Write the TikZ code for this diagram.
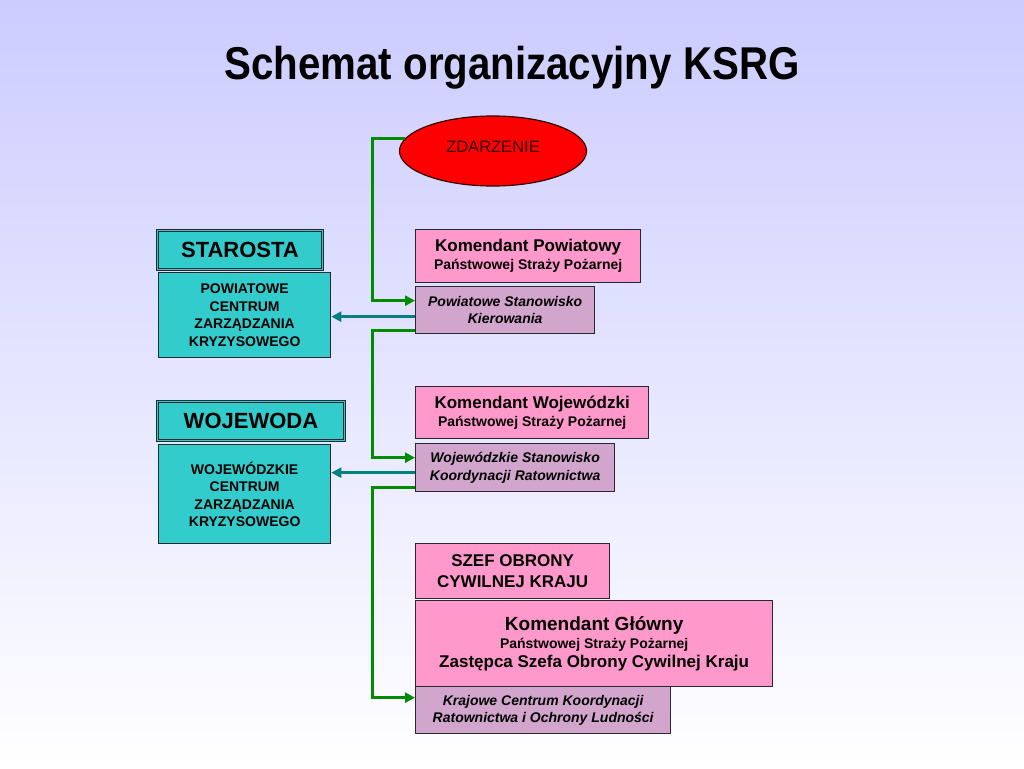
\documentclass[tikz,border=0pt]{standalone}
\usepackage{fontspec}
\setmainfont{Liberation Sans}
\usetikzlibrary{shapes.geometric,arrows.meta}
\definecolor{bgtop}{RGB}{204,204,255}
\definecolor{pinkbox}{RGB}{255,153,204}
\definecolor{lilac}{RGB}{210,165,205}
\definecolor{tealfill}{RGB}{51,204,204}
\definecolor{tealline}{RGB}{0,128,128}
\definecolor{gline}{RGB}{0,140,0}
\definecolor{edge}{RGB}{40,40,48}
\newcommand{\fs}[2]{\fontsize{#1}{#2}\selectfont}
\tikzset{
  basebox/.style={draw=edge, line width=1.3pt, anchor=north west, inner sep=0pt, align=center, text=black},
  pinkb/.style={basebox, fill=pinkbox, font=\bfseries},
  lilacb/.style={basebox, fill=lilac, font=\bfseries\itshape\fs{14}{17.5}},
  tealb/.style={basebox, fill=tealfill, font=\bfseries\fs{14}{17.5}},
  headb/.style={basebox, fill=tealfill, double=tealfill, double distance=1.4pt, line width=0.9pt, font=\bfseries},
  garrow/.style={draw=gline, line width=3pt, -{Triangle[length=10pt,width=10pt]}},
  tarrow/.style={draw=tealline, line width=2.8pt, -{Triangle[length=10pt,width=10pt]}}
}
\begin{document}
\begin{tikzpicture}[x=1pt,y=-1pt]
\shade[top color=bgtop, bottom color=white] (0,0) rectangle (1024,768);
\useasboundingbox (0,0) rectangle (1024,768);

\node[font=\bfseries\fs{46}{50}] (title) at (512,68) {\scalebox{0.875}[1]{Schemat organizacyjny KSRG}};

\node[ellipse, draw=black!80!red, line width=1.2pt, fill=red, minimum width=187pt, minimum height=70pt, inner sep=0pt, text={rgb,255:red,50;green,0;blue,0}, font=\fs{16.5}{18}] (ell) at (493,151) {\raisebox{8pt}{ZDARZENIE}\hspace{10pt}};

% right column
\node[pinkb, minimum width=225pt, minimum height=53pt] (kp) at (415,229) {{\fs{17}{19}Komendant Powiatowy}\\[3pt]{\fs{14}{16}Państwowej Straży Pożarnej}};
\node[lilacb, minimum width=179pt, minimum height=47pt] (psk) at (415,286) {Powiatowe Stanowisko\\Kierowania};

\node[pinkb, minimum width=233pt, minimum height=52pt] (kw) at (415,386) {{\fs{17}{19}Komendant Wojewódzki}\\[3pt]{\fs{14}{16}Państwowej Straży Pożarnej}};
\node[lilacb, minimum width=199pt, minimum height=48pt] (wskr) at (415,443) {Wojewódzkie Stanowisko\\Koordynacji Ratownictwa};

\node[pinkb, minimum width=194pt, minimum height=55pt, font=\bfseries\fs{17}{21}] (szef) at (415,543) {SZEF OBRONY\\CYWILNEJ KRAJU};
\node[pinkb, minimum width=357pt, minimum height=86pt] (kg) at (415,600) {{\fs{19}{20}Komendant Główny}\\[3pt]{\fs{14}{18}Państwowej Straży Pożarnej}\\[2pt]{\fs{17}{19}Zastępca Szefa Obrony Cywilnej Kraju}};
\node[lilacb, minimum width=255pt, minimum height=47pt] (kckr) at (415,686) {Krajowe Centrum Koordynacji\\Ratownictwa i Ochrony Ludności};

% left column
\node[headb, minimum width=165pt, minimum height=39pt, font=\bfseries\fs{22}{24}] (star) at (157,230) {STAROSTA};
\node[tealb, minimum width=172pt, minimum height=85pt] (pczk) at (158,272) {POWIATOWE\\CENTRUM\\ZARZĄDZANIA\\KRYZYSOWEGO};

\node[headb, minimum width=187pt, minimum height=39pt, font=\bfseries\fs{22}{25}] (woj) at (157,401) {WOJEWODA};
\node[tealb, minimum width=172pt, minimum height=99pt] (wczk) at (158,444) {WOJEWÓDZKIE\\CENTRUM\\ZARZĄDZANIA\\KRYZYSOWEGO};

% connectors
\draw[garrow] (ell.172) -| ([xshift=-43pt,yshift=9.5pt]psk.west) -- ([yshift=9.5pt]psk.west);
\draw[tarrow] ([yshift=-6.5pt]psk.west) -- ([yshift=-6.5pt]psk.west -| pczk.east);
\draw[garrow] ([yshift=-20.5pt]psk.west) -| ([xshift=-43pt,yshift=10pt]wskr.west) -- ([yshift=10pt]wskr.west);
\draw[tarrow] ([yshift=-5pt]wskr.west) -- ([yshift=-5pt]wskr.west -| wczk.east);
\draw[garrow] ([yshift=-20pt]wskr.west) -| ([xshift=-43pt,yshift=12.5pt]kckr.west) -- ([yshift=12.5pt]kckr.west);
\end{tikzpicture}
\end{document}
